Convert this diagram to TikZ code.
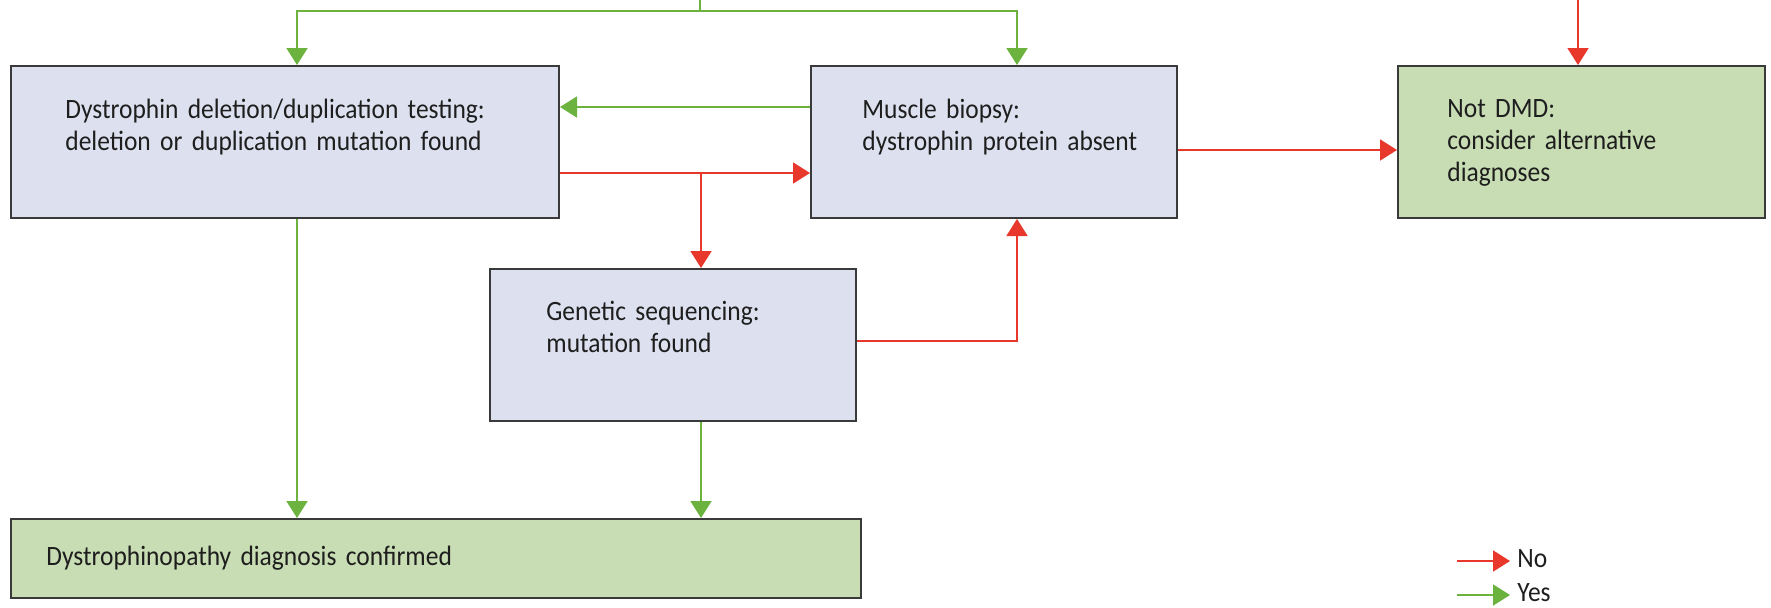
\documentclass[tikz,border=0pt]{standalone}
\usepackage{fontspec}
\usetikzlibrary{arrows.meta}
\newfontfamily\chartfont[FakeStretch=0.91,WordSpace=0.75]{Carlito}
\definecolor{BoxBlue}{HTML}{DDE1EF}
\definecolor{BoxGreen}{HTML}{C8DDB3}
\definecolor{BoxLine}{HTML}{3A3A3A}
\definecolor{YesGreen}{HTML}{6BB23F}
\definecolor{NoRed}{HTML}{E8372B}
\definecolor{TextInk}{HTML}{1E1E1E}

\begin{document}
\begin{tikzpicture}[x=0.5pt,y=-0.5pt,
    box/.style={draw=BoxLine,line width=1pt,anchor=north west,inner sep=0pt},
    bluebox/.style={box,fill=BoxBlue},
    greenbox/.style={box,fill=BoxGreen},
    boxtext/.style={anchor=base west,inner sep=0pt,text width=250pt,align=left,text=TextInk,font=\chartfont\fontsize{14pt}{16pt}\selectfont},
    legendtext/.style={anchor=base west,inner xsep=3.5pt,inner ysep=0pt,text=TextInk,font=\chartfont\fontsize{14pt}{16pt}\selectfont},
    yes/.style={draw=YesGreen,line width=.9pt,-{Triangle[length=8.5pt,width=10.5pt]}},
    no/.style={draw=NoRed,line width=.9pt,-{Triangle[length=8.5pt,width=10.5pt]}}]
  \useasboundingbox (0,0) rectangle (1771,607);
  \node[bluebox,minimum width=274pt,minimum height=76pt] (deltest) at (10,65) {};
  \node[bluebox,minimum width=183pt,minimum height=76pt] (biopsy) at (810,65) {};
  \node[greenbox,minimum width=183.5pt,minimum height=76pt] (notdmd) at (1397,65) {};
  \node[bluebox,minimum width=183pt,minimum height=76pt] (seq) at (489,268) {};
  \node[greenbox,minimum width=425pt,minimum height=39.5pt] (confirmed) at (10,518) {};
  \node[boxtext] (deltestlbl) at ([shift={(55,53)}]deltest.north west) {Dystrophin deletion/duplication testing:\\deletion or duplication mutation found};
  \node[boxtext] (biopsylbl) at ([shift={(52,53)}]biopsy.north west) {Muscle biopsy:\\dystrophin protein absent};
  \node[boxtext] (notdmdlbl) at ([shift={(50,52)}]notdmd.north west) {Not DMD:\\consider alternative\\diagnoses};
  \node[boxtext] (seqlbl) at ([shift={(57,52)}]seq.north west) {Genetic sequencing:\\mutation found};
  \node[boxtext] (confirmedlbl) at ([shift={(36,47)}]confirmed.north west) {Dystrophinopathy diagnosis confirmed};
  \coordinate (top) at (700,0);
  \coordinate (split) at (700,11);
  \coordinate (topno) at (1578,0);
  \coordinate (branch) at (701,173);
  \draw[YesGreen,line width=.9pt] (top) -- (split);
  \draw[yes] (split) -| (297,0 |- deltest.north);
  \draw[yes] (split) -| (1017,0 |- biopsy.north);
  \draw[no] (topno) -- (topno |- notdmd.north);
  \draw[yes] (biopsy.west |- 0,107) -- (deltest.east |- 0,107);
  \draw[no] (deltest.east |- 0,173) -- (biopsy.west |- 0,173);
  \draw[no] (branch) -- (branch |- seq.north);
  \draw[no] (biopsy.east |- 0,150) -- (notdmd.west |- 0,150);
  \draw[no] (seq.east |- 0,341) -| (1017,0 |- biopsy.south);
  \draw[yes] (297,0 |- deltest.south) -- (297,0 |- confirmed.north);
  \draw[yes] (701,0 |- seq.south) -- (701,0 |- confirmed.north);
  \coordinate (nostart) at (1457,561);
  \coordinate (yesstart) at (1457,595);
  \node[legendtext] (nolbl) at (1510,567) {No};
  \node[legendtext] (yeslbl) at (1510,601) {Yes};
  \draw[no] (nostart) -- (nostart -| nolbl.west);
  \draw[yes] (yesstart) -- (yesstart -| yeslbl.west);
\end{tikzpicture}
\end{document}
